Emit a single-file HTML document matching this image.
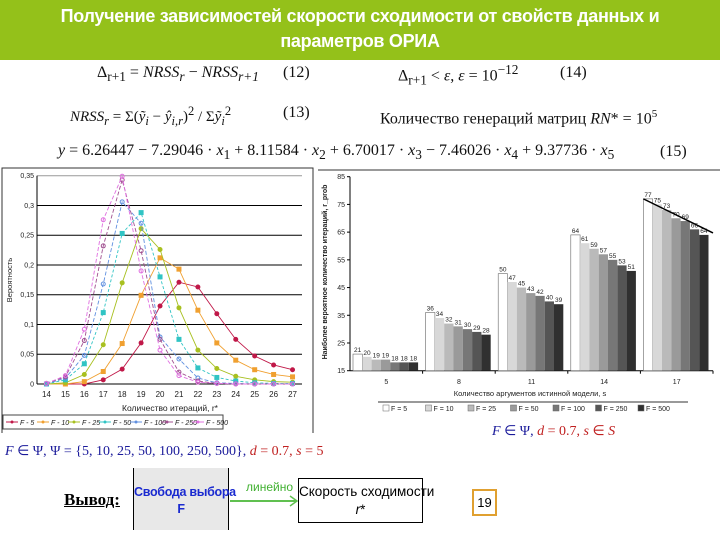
<!DOCTYPE html>
<html><head><meta charset="utf-8">
<style>
body{margin:0;width:720px;height:540px;overflow:hidden;background:#fff;font-family:"Liberation Sans",sans-serif;position:relative}
.a{position:absolute;white-space:nowrap}
.f{font-family:"Liberation Serif",serif;font-size:16px;color:#111}
i{font-style:italic}
</style></head><body>
<div class="a" style="left:0;top:0;width:720px;height:60px;background:#94c11a;color:#fff;font-size:18px;font-weight:bold;text-align:center;line-height:25px;padding-top:4px;box-sizing:border-box;letter-spacing:-0.3px">Получение зависимостей скорости сходимости от свойств данных и<br>параметров ОРИА</div>

<div class="a f" style="left:97px;top:64px">Δ<sub>r+1</sub> = <i>NRSS<sub>r</sub></i> − <i>NRSS<sub>r+1</sub></i></div>
<div class="a f" style="left:283px;top:64px">(12)</div>
<div class="a f" style="left:398px;top:62px">Δ<sub>r+1</sub> &lt; <i>ε</i>, <i>ε</i> = 10<sup>−12</sup></div>
<div class="a f" style="left:560px;top:64px">(14)</div>
<div class="a f" style="left:70px;top:104px;font-size:15px"><i>NRSS<sub>r</sub></i> = Σ(<i>ỹ<sub>i</sub></i> − <i>ŷ<sub>i,r</sub></i>)<sup>2</sup> / Σ<i>ỹ<sub>i</sub></i><sup>2</sup></div>
<div class="a f" style="left:283px;top:104px">(13)</div>
<div class="a f" style="left:380px;top:108px">Количество генераций матриц <i>RN</i>* = 10<sup style="font-size:11px">5</sup></div>
<div class="a f" style="left:58px;top:142px"><i>y</i> = 6.26447 − 7.29046 · <i>x</i><sub>1</sub> + 8.11584 · <i>x</i><sub>2</sub> + 6.70017 · <i>x</i><sub>3</sub> − 7.46026 · <i>x</i><sub>4</sub> + 9.37736 · <i>x</i><sub>5</sub></div>
<div class="a f" style="left:660px;top:143px">(15)</div>

<svg class="a" style="left:0;top:0" width="720" height="540">
<g id="L"></g>
<g id="R"></g>
</svg>

<div class="a" style="left:5px;top:443px;font-family:'Liberation Serif',serif;font-size:14px;color:#1a1a9a"><i>F</i> ∈ Ψ, Ψ = {5, 10, 25, 50, 100, 250, 500}, <span style="color:#c02020"><i>d</i> = 0.7, <i>s</i> = 5</span></div>
<div class="a" style="left:492px;top:423px;font-family:'Liberation Serif',serif;font-size:14px;color:#1a1a9a"><i>F</i> ∈ Ψ, <span style="color:#c02020"><i>d</i> = 0.7, <i>s</i> ∈ <i>S</i></span></div>

<div class="a" style="left:64px;top:490px;font-family:'Liberation Serif',serif;font-size:17px;font-weight:bold;text-decoration:underline">Вывод:</div>
<div class="a" style="left:133px;top:468px;width:96px;height:62px;background:#e8e8e8;border-left:1px solid #000;border-right:1px solid #000;color:#1a2ad0;font-weight:bold;font-size:12.5px;text-align:center;line-height:17px;padding-top:16px;box-sizing:border-box;letter-spacing:-0.3px">Свобода выбора<br>F</div>
<div class="a" style="left:246px;top:480px;color:#40b030;font-size:12px">линейно</div>
<svg class="a" style="left:230px;top:494px" width="70" height="14"><line x1="0" y1="7" x2="67" y2="7" stroke="#60c050" stroke-width="2"/><polyline points="60,2 67,7 60,12" fill="none" stroke="#60c050" stroke-width="1.5"/></svg>
<div class="a" style="left:298px;top:478px;width:125px;height:45px;border:1px solid #000;box-sizing:border-box;text-align:center;font-size:13.5px;line-height:18px;padding-top:4px">Скорость сходимости<br><i>r</i>*</div>
<div class="a" style="left:472px;top:489px;width:25px;height:27px;border:2px solid #e0a030;box-sizing:border-box;text-align:center;font-size:13px;line-height:23px">19</div>

<script>
const lineCats=[14,15,16,17,18,19,20,21,22,23,24,25,26,27];
const lineNames=["F - 5","F - 10","F - 25","F - 50","F - 100","F - 250","F - 500"];
const s5=[0,0,0,0.007,0.025,0.069,0.131,0.171,0.163,0.118,0.075,0.047,0.032,0.024];
const s10=[0,0,0.004,0.021,0.068,0.149,0.212,0.193,0.124,0.069,0.040,0.024,0.016,0.012];
const s25=[0,0.002,0.016,0.066,0.170,0.261,0.226,0.128,0.057,0.026,0.013,0.007,0.004,0.003];
const s50=[0,0.007,0.034,0.120,0.253,0.288,0.180,0.075,0.027,0.011,0.005,0.002,0.001,0.001];
const s100=[0,0.010,0.048,0.168,0.306,0.270,0.079,0.042,0.010,0.002,0.001,0,0,0];
const s250=[0.001,0.012,0.073,0.232,0.343,0.224,0.075,0.020,0.005,0.001,0,0,0,0];
const s500=[0.001,0.014,0.092,0.276,0.349,0.190,0.057,0.014,0.003,0.001,0,0,0,0];
const yTicks=[0,0.05,0.1,0.15,0.2,0.25,0.3,0.35];
const yTickLabels=["0","0,05","0,1","0,15","0,2","0,25","0,3","0,35"];

const barCats=[5,8,11,14,17];
const barNames=["F = 5","F = 10","F = 25","F = 50","F = 100","F = 250","F = 500"];
const b5=[21,20,19,19,18,18,18];
const b8=[36,34,32,31,30,29,28];
const b11=[50,47,45,43,42,40,39];
const b14=[64,61,59,57,55,53,51];
const b17=[77,75,73,70,69,66,64];
const barTicks=[15,25,35,45,55,65,75,85];

const NS="http://www.w3.org/2000/svg";
function mk(p,t,a){const e=document.createElementNS(NS,t);for(const k in a)e.setAttribute(k,a[k]);p.appendChild(e);return e;}
function tx(p,x,y,s,a){const e=mk(p,'text',Object.assign({x:x,y:y,'font-family':'Liberation Sans, sans-serif','font-size':7,fill:'#222'},a||{}));e.textContent=s;return e;}

const L=document.getElementById('L');
mk(L,'path',{d:'M2,433 V168 H313 V433',fill:'none',stroke:'#333','stroke-width':1});
const x0=37,x1=302,ly0=384,ly1=175.7;
const bw=(x1-x0)/lineCats.length;
const lx=i=>x0+bw*(i+0.5);
const ly=v=>ly0-(v/0.35)*(ly0-ly1);
yTicks.forEach((t,i)=>{
  const g=mk(L,'line',{x1:x0,x2:x1,y1:ly(t),y2:ly(t),stroke:i==7?'#999':'#000','stroke-width':1});
  
  const l=tx(L,x0-3,ly(t)+2.5,yTickLabels[i],{'text-anchor':'end'});
  
});
mk(L,'line',{x1:x0,x2:x0,y1:ly1,y2:ly0,stroke:'#000'});
lineCats.forEach((c,i)=>{const l=tx(L,lx(i),397,String(c),{'text-anchor':'middle','font-size':8});
  });
const xt=tx(L,170,411,'Количество итераций, r*',{'text-anchor':'middle','font-size':8.5});

const yt=tx(L,12,280,'Вероятность',{'text-anchor':'middle','font-size':7.5,transform:'rotate(-90 12 280)'});

const lineSeries=[s5,s10,s25,s50,s100,s250,s500];
const cols=['#c01848','#f0a030','#a8c020','#30c4c4','#6090e0','#a05090','#e070e0'];
const dash=['','','','3,2','4,2','4,2','4,2'];
lineSeries.forEach((s,k)=>{
  const pts=s.map((v,i)=>lx(i)+','+ly(v)).join(' ');
  const pl=mk(L,'polyline',{points:pts,fill:'none',stroke:cols[k],'stroke-width':0.9,'stroke-dasharray':dash[k]});
  
  
  s.forEach((v,i)=>{const m=mk(L,k==3||k==1?'rect':'circle',k==3||k==1?{x:lx(i)-2.5,y:ly(v)-2.5,width:5,height:5,fill:cols[k]}:{cx:lx(i),cy:ly(v),r:k==3?3.2:2,fill:k>=4?'none':cols[k],stroke:cols[k]});
    });
});
mk(L,'rect',{x:3,y:415,width:220,height:14,fill:'#fff',stroke:'#444'});
lineNames.forEach((n,k)=>{const x=6+k*31;
  mk(L,'line',{x1:x,x2:x+12,y1:422,y2:422,stroke:cols[k]});
  mk(L,'circle',{cx:x+6,cy:422,r:1.5,fill:cols[k]});
  const l=tx(L,x+14,425,n,{'font-size':7,'font-style':'italic'});
  });

const R=document.getElementById('R');
mk(R,'line',{x1:318,x2:720,y1:170,y2:170,stroke:'#333'});
const rx0=350,rx1=713,ry0=370.7,ry1=176.7;
const gw=(rx1-rx0)/barCats.length;
const ry=v=>ry0-(v-15)/70*(ry0-ry1);
barTicks.forEach(t=>{mk(R,'line',{x1:rx0-3,x2:rx0,y1:ry(t),y2:ry(t),stroke:'#000'});
  const l=tx(R,rx0-5,ry(t)+2.5,String(t),{'text-anchor':'end','font-size':7});
  });
mk(R,'line',{x1:rx0,x2:rx0,y1:ry1,y2:ry0,stroke:'#000'});
mk(R,'line',{x1:rx0,x2:rx1,y1:ry0,y2:ry0,stroke:'#000'});
const barSeries=[b5,b8,b11,b14,b17];
const gray=['#fff','#d8d8d8','#bababa','#9a9a9a','#777','#555','#303030'];
const bwid=9.3;
barCats.forEach((c,g)=>{
  const gx=rx0+g*gw+3;
  mk(R,'line',{x1:rx0+(g+1)*gw,x2:rx0+(g+1)*gw,y1:ry0,y2:ry0+3,stroke:'#000'});
  barSeries[g].forEach((v,k)=>{
    const r=mk(R,'rect',{x:gx+k*bwid,y:ry(v),width:bwid,height:ry0-ry(v),fill:gray[k],stroke:k==0?'#666':'none','stroke-width':0.6});
    
    const l=tx(R,gx+k*bwid+bwid/2,ry(v)-2,String(v),{'text-anchor':'middle','font-size':6.5});
    
  });
  const l=tx(R,rx0+(g+0.5)*gw,384,String(c),{'text-anchor':'middle','font-size':7});
  
});
const last=barSeries[4];
const tl=mk(R,'line',{x1:rx0+4*gw+3,y1:ry(last[0]),x2:rx1,y2:ry(last[6])-2,stroke:'#000','stroke-width':1.5});

const rxt=tx(R,530,396,'Количество аргументов истинной модели, s',{'text-anchor':'middle','font-size':7.5});

const ryt=tx(R,327,272,'Наиболее вероятное количество итераций, r_prob',{'text-anchor':'middle','font-size':7,transform:'rotate(-90 327 272)','font-weight':'bold'});

mk(R,'line',{x1:378,x2:688,y1:402,y2:402,stroke:'#333'});
barNames.forEach((n,k)=>{const x=383+k*42.5;
  mk(R,'rect',{x:x,y:405,width:6,height:6,fill:gray[k],stroke:'#666','stroke-width':0.5});
  const l=tx(R,x+8,411,n,{'font-size':7});
  });
</script>
</body></html>
